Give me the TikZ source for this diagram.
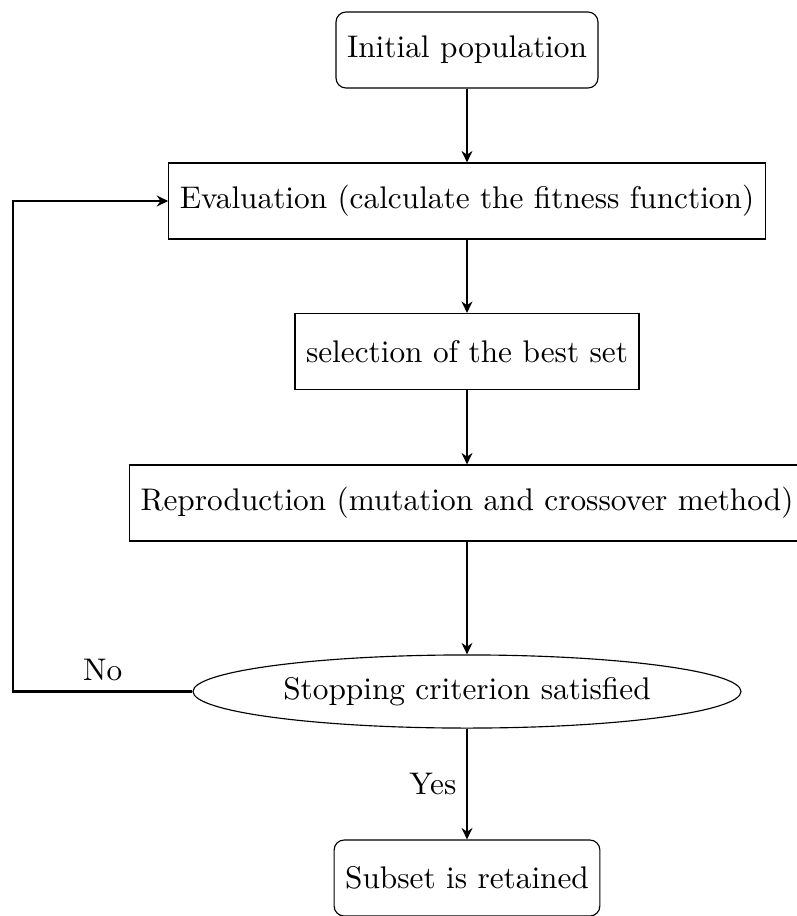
\documentclass[tikz,border=0pt]{standalone}
\usetikzlibrary{shapes.geometric,arrows.meta}
\begin{document}
\begin{tikzpicture}[x=0.35pt,y=-0.35pt,
  every node/.style={font=\fontsize{10.95}{13.6}\selectfont},
  box/.style={draw,line width=0.4pt,minimum height=26.6pt,inner xsep=3.85pt,inner ysep=0pt},
  rbox/.style={box,rounded corners=3.5pt},
  ell/.style={draw,ellipse,line width=0.4pt,minimum width=191.8pt,minimum height=25.6pt,inner sep=0pt},
  arr/.style={-{Stealth[length=4pt,width=3.8pt,inset=1.3pt]},thick}]
\useasboundingbox (0,0) rectangle (797,916);
\node[rbox] (init) at (467,50) {Initial population};
\node[box] (eval) at (467,201) {Evaluation (calculate the fitness function)};
\node[box] (sel) at (467,351.5) {selection of the best set};
\node[box] (repro) at (467,503) {Reproduction (mutation and crossover method)};
\node[ell] (stop) at (467,691.5) {Stopping criterion satisfied};
\node[rbox] (subset) at (467,878) {Subset is retained};
\coordinate (c1) at (13,691.5);
\coordinate (c2) at (13,201);
\draw[arr] (init) -- (eval);
\draw[arr] (eval) -- (sel);
\draw[arr] (sel) -- (repro);
\draw[arr] (repro) -- (stop);
\draw[arr] (stop) -- node[left] {Yes} (subset);
\draw[arr] (stop.west) -- node[above] {No} (c1) -- (c2) -- (eval.west);
\end{tikzpicture}
\end{document}
